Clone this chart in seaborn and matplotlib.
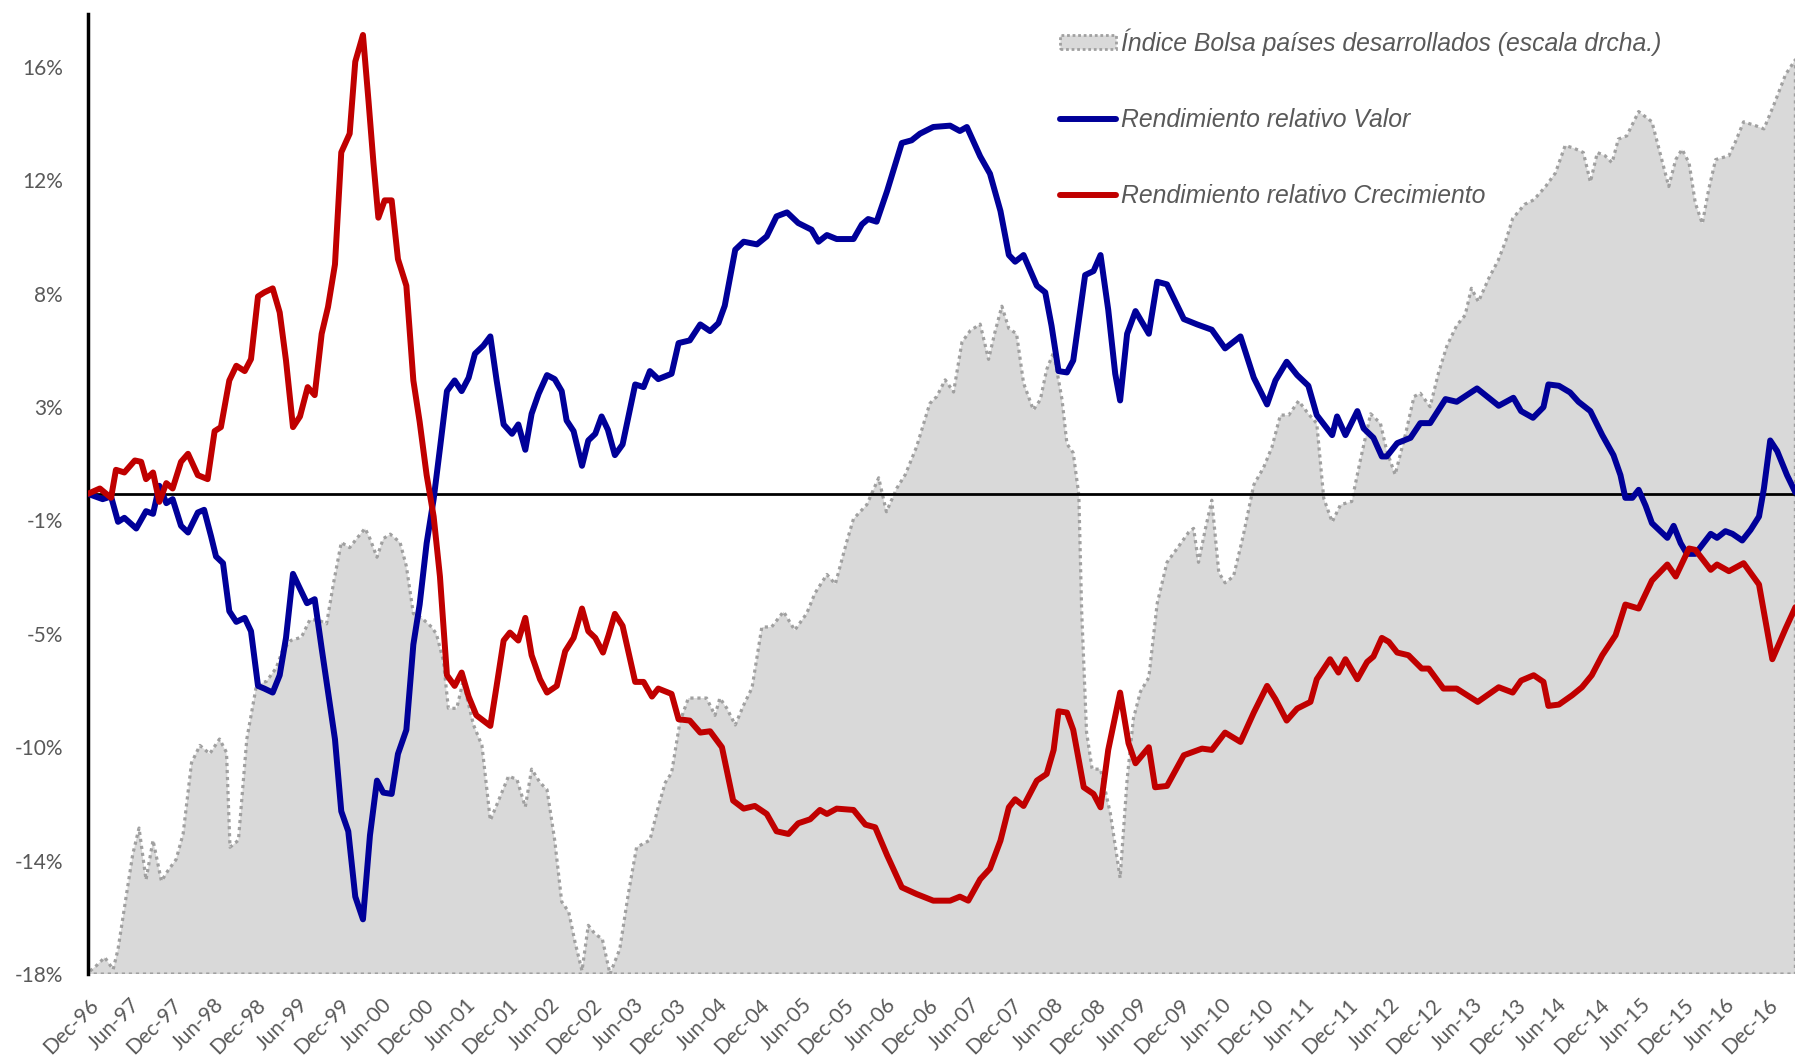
import numpy as np
import pandas as pd
import matplotlib
matplotlib.use("Agg")
import matplotlib.pyplot as plt
import seaborn as sns
from matplotlib.patches import Patch
from matplotlib.lines import Line2D

# ---------------- data ----------------
# x positions are months elapsed since Dec-96
valor_m = [0, 2.1, 3.3, 4.3, 5.2, 6.9, 8.3, 9.3, 10.2, 11.2, 12.1, 13.3, 14.3, 15.7, 16.6, 17.6, 18.3, 19.3,
           20.2, 21.2, 22.4, 23.3, 24.3, 25.2, 26.4, 27.4, 28.3, 29.3, 30.2, 31.3, 32.4, 33.4, 34.4, 35.3,
           36.2, 37.2, 38.2, 39.3, 40.3, 41.3, 42.2, 43.4, 44.3, 45.5, 46.5, 47.4, 48.4, 49.4, 50.3, 51.3,
           52.4, 53.4, 54.4, 55.3, 56.5, 57.5, 58.4, 59.4, 60.6, 61.5, 62.5, 63.4, 64.4, 65.6, 66.7, 67.7,
           68.4, 69.4, 70.6, 71.5, 72.5, 73.4, 74.3, 75.3, 76.4, 78.2, 79.4, 80.3, 81.5, 83.4, 84.4, 86,
           87.5, 88.9, 90.1, 91, 92.5, 93.7, 95.6, 97, 98.4, 99.9, 101.5, 103.4, 104.4, 105.6, 107, 109.4,
           110.6, 111.5, 112.7, 114.2, 116.3, 117.7, 118.9, 120.8, 123.2, 124.6, 125.6, 127.5, 128.9, 130.4,
           131.6, 132.5, 133.7, 135.6, 136.8, 137.7, 138.7, 139.9, 140.8, 142.5, 143.7, 144.7, 145.8, 146.8,
           147.5, 148.5, 149.7, 151.6, 152.8, 154.2, 156.6, 158.5, 160.6, 162.5, 164.7, 166.6, 168.5, 169.7,
           171.3, 172.8, 174.4, 175.6, 177.8, 178.5, 179.7, 181.4, 182.3, 183.7, 184.9, 185.6, 187.1, 189,
           190.4, 191.8, 194, 195.6, 198.5, 201.6, 203.7, 204.8, 206.5, 208, 208.7, 210.2, 211.8, 213,
           214.7, 216.4, 218, 219, 219.7, 220.7, 221.6, 222.6, 223.5, 225.7, 226.6, 227.6, 228.5, 229.7,
           231.9, 232.8, 234, 235, 236.4, 237.6, 238.8, 239.5, 240.4, 241.4, 242.8, 244]
valor = [0, -0.2, -0.1, -1.05, -0.9, -1.3, -0.65, -0.75, 0.3, -0.35, -0.2, -1.2, -1.45, -0.7, -0.6, -1.6, -2.35, -2.6,
         -4.4, -4.8, -4.65, -5.15, -7.2, -7.3, -7.45, -6.8, -5.4, -3.0, -3.5, -4.1, -3.95, -5.8, -7.6, -9.2,
         -11.9, -12.65, -15.1, -15.95, -12.8, -10.75, -11.2, -11.25, -9.75, -8.85, -5.65, -4.15, -1.85, -0.2, 1.7, 3.85,
         4.25, 3.85, 4.35, 5.25, 5.55, 5.9, 4.25, 2.6, 2.25, 2.6, 1.65, 3.0, 3.75, 4.45, 4.3, 3.85,
         2.75, 2.35, 1.05, 2.0, 2.25, 2.9, 2.4, 1.45, 1.85, 4.1, 4.0, 4.6, 4.3, 4.5, 5.65, 5.75,
         6.35, 6.1, 6.4, 7.05, 9.15, 9.45, 9.35, 9.65, 10.4, 10.55, 10.15, 9.9, 9.45, 9.7, 9.55, 9.55,
         10.1, 10.3, 10.2, 11.35, 13.15, 13.25, 13.5, 13.75, 13.8, 13.6, 13.75, 12.65, 12.0, 10.6,
         8.95, 8.7, 8.95, 7.8, 7.55, 6.3, 4.6, 4.55, 5.0, 8.2, 8.35, 8.95, 6.9, 4.5,
         3.5, 6.0, 6.85, 6.0, 7.95, 7.85, 6.55, 6.35, 6.15, 5.45, 5.9, 4.35, 3.35, 4.25,
         4.95, 4.45, 4.05, 2.95, 2.2, 2.9, 2.2, 3.1, 2.45, 2.1, 1.4, 1.4, 1.9, 2.1,
         2.65, 2.65, 3.55, 3.45, 3.95, 3.3, 3.6, 3.1, 2.85, 3.25, 4.1, 4.05, 3.8, 3.45,
         3.1, 2.2, 1.45, 0.7, -0.15, -0.15, 0.15, -0.45, -1.1, -1.65, -1.2, -1.85, -2.25, -2.25,
         -1.5, -1.65, -1.4, -1.5, -1.75, -1.35, -0.85, 0.2, 2.0, 1.6, 0.7, 0.05]

crec_m = [0, 1.7, 3.3, 4, 5.2, 6.7, 7.6, 8.3, 9.3, 10.2, 11.2, 12.1, 13.3, 14.3, 15.7, 17.1, 18.1, 19,
          20.2, 21.2, 22.4, 23.3, 24.3, 25.2, 26.4, 27.4, 28.3, 29.3, 30.3, 31.4, 32.4, 33.4, 34.3, 35.3,
          36.2, 37.4, 38.2, 39.3, 40.1, 40.8, 41.5, 42.4, 43.4, 44.3, 45.5, 46.5, 47.4, 48.4, 49.4, 50.3,
          51.3, 52.4, 53.4, 54.4, 55.5, 57.5, 58.4, 59.4, 60.3, 61.5, 62.5, 63.4, 64.6, 65.6, 67, 68.2,
          69.4, 70.6, 71.5, 72.5, 73.6, 74.4, 75.3, 76.4, 78.2, 79.4, 80.6, 81.5, 83.4, 84.4, 86, 87.5,
          88.9, 90.6, 92.2, 93.7, 95.3, 97, 98.4, 100.1, 101.5, 103.2, 104.6, 105.6, 107, 109.4, 111.1, 112.5,
          114.2, 116.3, 118.4, 120.8, 123.2, 124.6, 125.8, 127.5, 128.9, 130.4, 131.6, 132.5, 133.7, 135.6,
          137, 138, 138.7, 139.9, 140.8, 142.3, 143.7, 144.7, 145.8, 147.5, 148.7, 149.7, 151.6, 152.5,
          154.2, 156.6, 159.2, 160.6, 162.5, 164.7, 166.6, 168.5, 169.7, 171.3, 172.8, 174.7, 175.6, 177.5,
          178.7, 179.7, 181.4, 182.8, 183.7, 184.9, 185.9, 187.1, 188.7, 190.6, 191.6, 193.7, 195.6, 198.6,
          201.6, 203.6, 204.8, 206.6, 208, 208.7, 210.2, 212.1, 213.5, 214.9, 216.4, 218.3, 219.7, 221.6,
          223.5, 225.7, 226.9, 228.8, 229.7, 231.9, 232.8, 234.5, 236.6, 238.8, 240.7, 242.6, 244]
crecimiento = [0, 0.2, -0.15, 0.9, 0.8, 1.25, 1.2, 0.55, 0.8, -0.3, 0.4, 0.2, 1.2, 1.5, 0.7, 0.55, 2.35, 2.5,
               4.25, 4.8, 4.6, 5.05, 7.4, 7.55, 7.7, 6.8, 5.0, 2.5, 2.9, 4.0, 3.7, 6.0, 7.0, 8.6,
               12.8, 13.5, 16.2, 17.2, 14.7, 12.4, 10.35, 11.0, 11.0, 8.8, 7.8, 4.25, 2.7, 0.7, -0.85, -3.1,
               -6.8, -7.2, -6.7, -7.6, -8.3, -8.7, -7.2, -5.5, -5.2, -5.5, -4.65, -6.05, -6.95, -7.45, -7.2, -5.9,
               -5.4, -4.3, -5.15, -5.4, -5.95, -5.3, -4.5, -4.95, -7.05, -7.05, -7.6, -7.3, -7.5, -8.45, -8.5, -8.95,
               -8.9, -9.5, -11.5, -11.8, -11.7, -12.0, -12.65, -12.75, -12.35, -12.2, -11.85, -12.0, -11.8, -11.85, -12.4, -12.5,
               -13.55, -14.75, -15.0, -15.25, -15.25, -15.1, -15.25, -14.45, -14.05, -13.0, -11.75, -11.45, -11.7, -10.75,
               -10.5, -9.6, -8.15, -8.2, -8.85, -11.0, -11.25, -11.75, -9.6, -7.45, -9.35, -10.1, -9.5, -11.0,
               -10.95, -9.8, -9.55, -9.6, -8.95, -9.3, -8.2, -7.2, -7.7, -8.5, -8.05, -7.8, -6.95, -6.2,
               -6.7, -6.2, -6.95, -6.3, -6.1, -5.4, -5.55, -5.95, -6.05, -6.55, -6.55, -7.3, -7.3, -7.8,
               -7.25, -7.45, -7.0, -6.8, -7.05, -7.95, -7.9, -7.55, -7.25, -6.8, -6.05, -5.3, -4.15, -4.3,
               -3.25, -2.65, -3.1, -2.05, -2.1, -2.85, -2.65, -2.9, -2.6, -3.4, -6.2, -5.05, -4.25]

indice_m = [0, 1.2, 2.4, 3.6, 4.3, 5.5, 6.4, 7.3, 8.3, 9.3, 10.5, 11.4, 12.6, 13.6, 14.8, 16, 17.4, 18.8,
            19.8, 20.3, 21.5, 22.7, 24.1, 25.5, 26.9, 27.8, 29, 30.5, 31.7, 32.9, 34.1, 35.1, 36.2, 37.4,
            38.4, 39.6, 40.3, 41.3, 42.2, 43.2, 44.6, 45.5, 46.5, 47.7, 49.1, 49.8, 50.8, 51.5, 52.7, 53.6,
            55.1, 56.3, 57.5, 58.9, 60.1, 61.3, 62.5, 63.4, 64.6, 65.6, 66.7, 67.7, 68.7, 69.6, 70.6, 71.5,
            72.5, 73.5, 74.6, 76, 77.2, 78.4, 80.3, 81.5, 82.5, 83.4, 84.6, 85.8, 87, 88.4, 89.6, 90.3,
            91.3, 92.5, 93.7, 94.9, 96.3, 97.7, 99.4, 101, 102.7, 103.9, 105.6, 106.8, 108.4, 109.4, 111.3, 113,
            114.1, 115.6, 116.8, 118.4, 120.3, 121.3, 122.5, 123.7, 124.9, 126.1, 127.5, 128.7, 129.6, 130.6,
            131.6, 132.7, 133.7, 135.1, 136.1, 137, 138, 139.2, 139.9, 140.8, 141.6, 142, 142.7, 143.5,
            144.7, 146.1, 147.5, 148.5, 149.4, 150.4, 151.6, 152.8, 154.2, 155.6, 157.3, 158, 158.7, 159.7,
            160.6, 161.6, 162.5, 163.7, 165.1, 166.6, 168, 169.2, 170.4, 171.6, 173, 174.4, 175.6, 176.6,
            177.8, 179, 180.6, 181.8, 183.3, 184.7, 185.6, 186.8, 188.3, 189.5, 190.4, 191.8, 193, 194.2,
            195.6, 196.8, 197.7, 198.7, 200.2, 201.5, 202.6, 203.6, 205.3, 206.6, 208.3, 209.7, 211.1, 212.3,
            213.7, 214.7, 215.7, 216.8, 217.8, 218.7, 219.9, 221.6, 223.5, 224.9, 225.9, 226.9, 227.8, 228.8,
            229.7, 230.7, 231.6, 232.6, 234.5, 235.4, 236.6, 238.3, 239.5, 240.9, 242.6, 244]
indice = [502, 513, 526, 507, 539, 624, 687, 728, 647, 709, 645, 661, 679, 719, 830, 857, 844, 867,
          846, 698, 709, 867, 952, 957, 978, 1005, 1021, 1026, 1053, 1053, 1047, 1111, 1174, 1166,
          1180, 1196, 1180, 1151, 1180, 1187, 1174, 1137, 1063, 1056, 1042, 1031, 989, 915, 915, 957,
          889, 857, 740, 777, 809, 804, 761, 820, 799, 788, 709, 613, 597, 550, 505, 576,
          562, 555, 500, 539, 624, 698, 709, 761, 799, 814, 894, 931, 931, 931, 904, 931,
          915, 889, 920, 947, 1042, 1042, 1066, 1037, 1063, 1095, 1124, 1109, 1174, 1211, 1233, 1275,
          1222, 1259, 1280, 1323, 1391, 1402, 1428, 1409, 1487, 1505, 1515, 1460, 1502, 1543,
          1508, 1500, 1423, 1381, 1397, 1444, 1471, 1397, 1328, 1314, 1248, 1068, 878, 820,
          820, 751, 650, 804, 899, 941, 963, 1079, 1143, 1164, 1190, 1196, 1143, 1196,
          1240, 1127, 1111, 1121, 1185, 1264, 1291, 1323, 1373, 1373, 1395, 1375, 1360, 1243,
          1206, 1233, 1238, 1301, 1375, 1360, 1317, 1280, 1344, 1402, 1407, 1386, 1439, 1481,
          1513, 1529, 1571, 1550, 1587, 1614, 1645, 1680, 1702, 1709, 1730, 1751, 1794, 1790,
          1783, 1737, 1783, 1778, 1767, 1804, 1809, 1847, 1831, 1772, 1730, 1772, 1788, 1767,
          1704, 1672, 1725, 1772, 1778, 1799, 1831, 1825, 1820, 1857, 1905, 1928]

y_ticks = [-18, -13.75, -9.5, -5.25, -1, 3.25, 7.5, 11.75, 16]
labels = ["Índice Bolsa países desarrollados (escala drcha.)",
          "Rendimiento relativo Valor",
          "Rendimiento relativo Crecimiento"]

# ---------------- helpers ----------------
start = pd.Timestamp("1996-12-31")
def to_dates(months):
    return start + pd.to_timedelta(np.asarray(months) * 30.4375, unit="D")

df_lines = pd.concat([
    pd.DataFrame({"fecha": to_dates(valor_m), "valor": valor, "serie": labels[1]}),
    pd.DataFrame({"fecha": to_dates(crec_m), "valor": crecimiento, "serie": labels[2]}),
])
df_idx = pd.DataFrame({"fecha": to_dates(indice_m), "indice": indice})

BLUE = "#000099"
RED = "#C00000"
GREY_FILL = "#D9D9D9"
GREY_EDGE = "#A0A0A0"
TXT = "#595959"

sns.set_style("white")
plt.rcParams["font.family"] = ["Lato", "DejaVu Sans"]

fig = plt.figure(figsize=(17.95, 10.63), dpi=100)
ax = fig.add_axes([0.049, 0.0837, 0.951, 0.9035])
ax2 = ax.twinx()

# grey area on the right-hand scale
ax2.fill_between(df_idx["fecha"], 500, df_idx["indice"], facecolor=GREY_FILL,
                 edgecolor=GREY_EDGE, linestyle=(0, (1, 1.2)), linewidth=2.3)
ax2.set_ylim(500, 2000)
ax2.set_yticks([])
for s in ax2.spines.values():
    s.set_visible(False)

# lines on the left scale
ax.set_zorder(ax2.get_zorder() + 1)
ax.patch.set_visible(False)
ax.axhline(0, color="black", lw=2, zorder=1)
sns.lineplot(data=df_lines, x="fecha", y="valor", hue="serie",
             palette={labels[1]: BLUE, labels[2]: RED}, linewidth=4.3,
             sort=False, estimator=None, ax=ax, legend=False, zorder=3)

xmin = start
xmax = pd.Timestamp("2017-04-30")
ax.set_xlim(xmin, xmax)
ax2.set_xlim(xmin, xmax)
ax.set_ylim(-18, 18)
ax.set_yticks(y_ticks)
ax.set_yticklabels([f"{v:.0f}%" for v in y_ticks], color=TXT, fontsize=15)
xt = pd.date_range("1996-12-31", "2016-12-31", freq="6ME")
ax.set_xticks(xt)
ax.set_xticklabels([d.strftime("%b-%y") for d in xt], rotation=45, ha="right",
                   rotation_mode="anchor", color=TXT, fontsize=15)
ax.tick_params(axis="y", length=0, pad=18)
ax.tick_params(axis="x", length=0, pad=15)
ax.set_xlabel("")
ax.set_ylabel("")
for k in ["top", "right", "bottom"]:
    ax.spines[k].set_visible(False)
ax.spines["left"].set_color("black")
ax.spines["left"].set_linewidth(2.5)
ax.grid(False)

handles = [Patch(facecolor=GREY_FILL, edgecolor=GREY_EDGE, linestyle=(0, (1, 1)), linewidth=2),
           Line2D([], [], color=BLUE, lw=4.3),
           Line2D([], [], color=RED, lw=4.3)]
leg = ax.legend(handles, labels, loc="upper left", bbox_to_anchor=(0.5905, 0.9735),
                bbox_transform=fig.transFigure, frameon=False, borderpad=0, borderaxespad=0,
                handlelength=2.25, handleheight=0.5, handletextpad=0.22, labelspacing=2.1,
                prop={"family": "Liberation Sans", "style": "italic", "size": 17.8})
for t in leg.get_texts():
    t.set_color(TXT)

fig.savefig("out.png", dpi=100)
